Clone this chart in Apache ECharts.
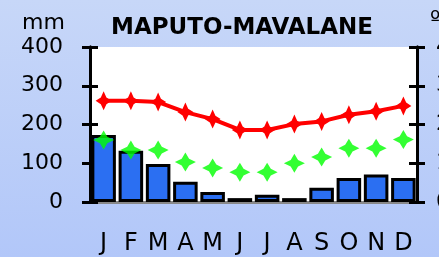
<!DOCTYPE html>
<html>
<head>
<meta charset="utf-8">
<script src="https://cdn.jsdelivr.net/npm/echarts@6/dist/echarts.min.js"></script>
<style>
  html, body { margin: 0; padding: 0; }
  #eChart { width: 439px; height: 257px; }
</style>
</head>
<body>
<div id="eChart"></div>
<script>
// values
var months = ['J', 'F', 'M', 'A', 'M', 'J', 'J', 'A', 'S', 'O', 'N', 'D'];
var rain = [173, 132, 98, 52, 26, 10, 19, 10, 37, 62, 71, 62];        // mm, left axis
var tempMax = [26.1, 26.1, 25.8, 23.2, 21.4, 18.6, 18.6, 20.1, 20.8, 22.5, 23.4, 24.8]; // ºC
var tempMin = [16.0, 13.4, 13.4, 10.3, 8.8, 7.7, 7.7, 10.0, 11.6, 13.9, 13.9, 16.1];    // ºC

var starPath = 'path://M10 0 L13.5 6.5 L20 10 L13.5 13.5 L10 20 L6.5 13.5 L0 10 L6.5 6.5 Z';
var font = 'DejaVu Sans';

drawChart();

function drawChart() {
  var mainChart = echarts.init(document.getElementById('eChart'));

  var option = {
    animation: false,
    backgroundColor: {
      type: 'linear', x: 0, y: 0, x2: 0, y2: 1,
      colorStops: [
        { offset: 0, color: '#c7d7f8' },
        { offset: 1, color: '#b2c7f9' }
      ]
    },
    title: [
      {
        text: 'MAPUTO-MAVALANE',
        left: 106,
        top: 12,
        textStyle: { fontFamily: font, fontSize: 23, fontWeight: 'bold', color: '#000' }
      },
      {
        text: 'mm',
        left: 17,
        top: 7,
        textStyle: { fontFamily: font, fontSize: 22, fontWeight: 'normal', color: '#000' }
      },
      {
        text: 'ºC',
        left: 425,
        top: 4,
        textStyle: { fontFamily: font, fontSize: 22, fontWeight: 'normal', color: '#000' }
      }
    ],
    grid: {
      left: 90,
      right: 22,
      top: 47,
      bottom: 55,
      containLabel: false,
      outerBoundsMode: 'none',
      show: true,
      backgroundColor: '#ffffff',
      borderWidth: 0
    },
    xAxis: [
      {
        type: 'category',
        data: months,
        boundaryGap: true,
        axisLine: { lineStyle: { color: '#000', width: 3 } },
        axisTick: { length: 11, lineStyle: { color: '#000', width: 3 } },
        axisLabel: { interval: 0, margin: 30, color: '#000', fontFamily: font, fontSize: 24 }
      },
      {
        type: 'category',
        data: months,
        position: 'top',
        axisLine: { lineStyle: { color: '#888', width: 3 } },
        axisTick: { show: false },
        axisLabel: { show: false }
      }
    ],
    yAxis: [
      {
        type: 'value',
        position: 'left',
        min: 0, max: 400, interval: 100,
        splitLine: { show: false },
        axisLine: { show: true, lineStyle: { color: '#000', width: 3 } },
        axisTick: { show: true, length: 8, lineStyle: { color: '#000', width: 3 } },
        axisLabel: { margin: 27, color: '#000', fontFamily: font, fontSize: 22 }
      },
      {
        type: 'value',
        position: 'left',
        min: 0, max: 400, interval: 100,
        splitLine: { show: false },
        axisLine: { show: true, lineStyle: { color: '#000', width: 3 } },
        axisTick: { show: true, inside: true, length: 8, lineStyle: { color: '#000', width: 3 } },
        axisLabel: { show: false }
      },
      {
        type: 'value',
        position: 'right',
        min: 0, max: 40, interval: 10,
        splitLine: { show: false },
        axisLine: { show: true, lineStyle: { color: '#000', width: 3 } },
        axisTick: { show: true, length: 8, lineStyle: { color: '#000', width: 3 } },
        axisLabel: { margin: 19, color: '#000', fontFamily: font, fontSize: 22 }
      },
      {
        type: 'value',
        position: 'right',
        min: 0, max: 40, interval: 10,
        splitLine: { show: false },
        axisLine: { show: true, lineStyle: { color: '#000', width: 3 } },
        axisTick: { show: true, inside: true, length: 8, lineStyle: { color: '#000', width: 3 } },
        axisLabel: { show: false }
      }
    ],
    series: [
      {
        name: 'mm',
        type: 'bar',
        xAxisIndex: 0,
        yAxisIndex: 0,
        barCategoryGap: '10%',
        itemStyle: { color: '#2b6ff2', borderColor: '#000', borderWidth: 3 },
        data: rain
      },
      {
        name: 'max',
        type: 'line',
        xAxisIndex: 0,
        yAxisIndex: 2,
        symbol: starPath,
        symbolSize: [16, 19],
        itemStyle: { color: '#ff0000' },
        lineStyle: { color: '#ff0000', width: 4 },
        data: tempMax
      },
      {
        name: 'min',
        type: 'scatter',
        xAxisIndex: 0,
        yAxisIndex: 2,
        symbol: starPath,
        symbolSize: [21, 19],
        itemStyle: { color: '#00ff00' },
        data: tempMin
      }
    ]
  };

  mainChart.setOption(option);
}
</script>
</body>
</html>
